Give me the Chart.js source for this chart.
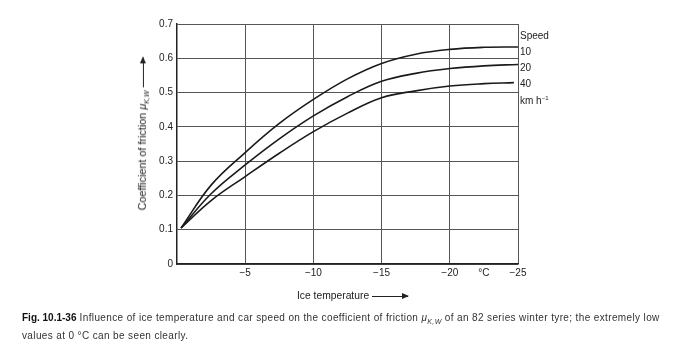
<!DOCTYPE html>
<html>
<head>
<meta charset="utf-8">
<script src="https://cdn.jsdelivr.net/npm/chart.js@4.4.1/dist/chart.umd.min.js"></script>
<style>
  html, body { margin: 0; padding: 0; background: #fff; }
  #wrap { position: relative; width: 700px; height: 353px; font-family: "Liberation Sans", Arial, sans-serif; color: #222; }
  #chart { position: absolute; left: 0; top: 0; }
  .lbl { position: absolute; font-size: 10px; white-space: nowrap; line-height: 1; }
  #ytitle { position: absolute; left: 143px; top: 134px; transform: translate(-50%, -50%) rotate(-90deg); font-size: 10.8px; white-space: nowrap; color: #222; }
  #xtitle { position: absolute; left: 297px; top: 290px; font-size: 10.3px; white-space: nowrap; }
  .arrow { display: inline-block; vertical-align: middle; position: relative; width: 30px; height: 1.2px; background: #222; margin-left: 3px; }
  #xtitle .arrow { width: 36px; }
  .arrow:after { content: ""; position: absolute; right: -1px; top: -3px; border-left: 7px solid #222; border-top: 3.5px solid transparent; border-bottom: 3.5px solid transparent; }
  #caption { position: absolute; left: 22px; top: 311px; font-size: 10px; line-height: 14px; color: #333; white-space: nowrap; letter-spacing: 0.37px; }
  #caption b { color: #111; letter-spacing: 0; }
</style>
</head>
<body>
<div id="wrap">
  <canvas id="chart" width="700" height="353"></canvas>
  <div class="lbl" style="left:520px;top:31px">Speed</div>
  <div class="lbl" style="left:520px;top:47px">10</div>
  <div class="lbl" style="left:520px;top:63px">20</div>
  <div class="lbl" style="left:520px;top:79px">40</div>
  <div class="lbl" style="left:520px;top:95px">km h<sup style="font-size:6px">−1</sup></div>
  <div id="ytitle">Coefficient of friction <i>μ</i><sub style="font-size:7px"><i>K,W</i></sub><span class="arrow"></span></div>
  <div id="xtitle">Ice temperature<span class="arrow"></span></div>
  <div id="caption"><b>Fig. 10.1-36</b> Influence of ice temperature and car speed on the coefficient of friction <i>μ</i><sub style="font-size:7px"><i>K,W</i></sub> of an 82 series winter tyre; the extremely low<br>values at 0 °C can be seen clearly.</div>
</div>
<script>
// ice temperature in °C (axis runs 0 -> -25)
const temps = [-0.3, -2.5, -5, -7.5, -10, -12.5, -15, -17.5, -20, -22.5, -25];
const temps40 = [-0.3, -2.5, -5, -7.5, -10, -12.5, -15, -17.5, -20, -22.5, -24.7];

// friction coefficient per speed (km/h)
const mu10 = [0.105, 0.230, 0.325, 0.410, 0.480, 0.540, 0.585, 0.612, 0.626, 0.632, 0.633];
const mu20 = [0.105, 0.205, 0.289, 0.365, 0.432, 0.488, 0.533, 0.556, 0.570, 0.578, 0.582];
const mu40 = [0.105, 0.185, 0.255, 0.323, 0.386, 0.440, 0.485, 0.505, 0.519, 0.526, 0.529];

const xTickLabels = { '-5': '−5', '-10': '−10', '-15': '−15', '-20': '−20', '-22.5': '°C', '-25': '−25' };

function toPoints(xs, ys) {
  return xs.map((x, i) => ({ x: x, y: ys[i] }));
}

const lineStyle = { borderColor: '#1a1a1a', borderWidth: 1.6, pointRadius: 0, tension: 0.4, fill: false };

new Chart(document.getElementById('chart').getContext('2d'), {
  type: 'line',
  data: {
    datasets: [
      { label: '10', data: toPoints(temps, mu10), ...lineStyle },
      { label: '20', data: toPoints(temps, mu20), ...lineStyle },
      { label: '40', data: toPoints(temps40, mu40), ...lineStyle }
    ]
  },
  options: {
    responsive: false,
    animation: false,
    layout: { padding: { left: 0, top: 24, right: 182, bottom: 69 } },
    plugins: { legend: { display: false }, tooltip: { enabled: false } },
    scales: {
      x: {
        type: 'linear',
        min: -25,
        max: 0,
        reverse: true,
        afterFit: s => { s.height = 20; },
        afterBuildTicks: s => {
          s.ticks = [];
          for (let v = 0; v >= -25; v -= 2.5) s.ticks.push({ value: v });
        },
        ticks: {
          autoSkip: false,
          maxRotation: 0,
          padding: 3,
          color: '#222',
          font: { family: 'Liberation Sans', size: 10 },
          callback: v => xTickLabels[String(v)] || ''
        },
        grid: {
          drawTicks: false,
          color: ctx => (ctx.tick && ctx.tick.value % 5 === 0 && ctx.tick.value !== 0) ? '#555' : 'rgba(0,0,0,0)',
          lineWidth: 1
        },
        border: { color: '#222', width: 1.5 }
      },
      y: {
        min: 0,
        max: 0.7,
        afterFit: s => { s.width = 177; },
        ticks: {
          stepSize: 0.1,
          padding: 4,
          color: '#222',
          font: { family: 'Liberation Sans', size: 10 },
          callback: v => v === 0 ? '0' : v.toFixed(1)
        },
        grid: { drawTicks: false, color: '#555', lineWidth: 1 },
        border: { color: '#222', width: 1.5 }
      }
    }
  }
});
</script>
</body>
</html>
